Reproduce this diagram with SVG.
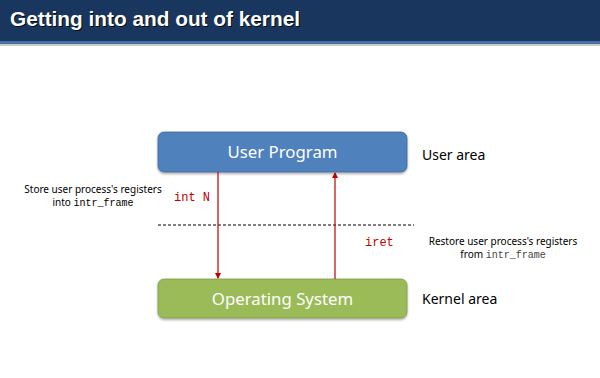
<svg xmlns="http://www.w3.org/2000/svg" width="600" height="378" viewBox="0 0 600 378">
<defs>
<marker id="ah" markerWidth="6" markerHeight="6" refX="5" refY="3" orient="auto" markerUnits="userSpaceOnUse">
<path d="M0,0 L6,3 L0,6 z" fill="#c00000"/>
</marker>
<filter id="sh" x="-5%" y="-10%" width="110%" height="130%">
<feDropShadow dx="0" dy="1.5" stdDeviation="1" flood-color="#000" flood-opacity="0.35"/>
</filter>
</defs>
<style>
.lbl{font-family:"Noto Sans","Open Sans","Liberation Sans",sans-serif;fill:#000}
.box{font-family:"Noto Sans","Open Sans","Liberation Sans",sans-serif;fill:#fff;font-size:16.8px}
.mono{font-family:"Liberation Mono","DejaVu Sans Mono",monospace}
.red{fill:#c00000}
.conn{stroke:#c00000;stroke-width:1.2;fill:none}
</style>
<rect x="0" y="0" width="600" height="41" fill="#19365e"/>
<rect x="0" y="41" width="600" height="3" fill="#4a6fa5"/>
<rect x="0" y="44" width="600" height="2" fill="#c8c8c8"/>
<text x="11" y="27" font-family="Liberation Sans,Arial,sans-serif" font-weight="bold" font-size="20.8" fill="#000" opacity="0.8">Getting into and out of kernel</text>
<text x="10" y="26" font-family="Liberation Sans,Arial,sans-serif" font-weight="bold" font-size="20.8" fill="#fff">Getting into and out of kernel</text>
<g id="user-program">
<rect x="158" y="132" width="249" height="40" rx="6" fill="#4f81bd" stroke="#41689a" stroke-width="0.8" filter="url(#sh)"/>
<text class="box" x="282.5" y="158" text-anchor="middle">User Program</text>
</g>
<g id="operating-system">
<rect x="158" y="279" width="249" height="39" rx="6" fill="#9bbb59" stroke="#7f9a48" stroke-width="0.8" filter="url(#sh)"/>
<text class="box" x="282.5" y="305" text-anchor="middle">Operating System</text>
</g>
<g id="user-area"><text class="lbl" x="422" y="160" font-size="14">User area</text></g>
<g id="kernel-area"><text class="lbl" x="422" y="304" font-size="14">Kernel area</text></g>
<g id="boundary"><line x1="158" y1="225" x2="414" y2="225" stroke="#000" stroke-width="1" stroke-dasharray="3,2"/></g>
<g id="connectors">
<line class="conn" x1="218" y1="172" x2="218" y2="278" marker-end="url(#ah)"/>
<line class="conn" x1="335" y1="279" x2="335" y2="173" marker-end="url(#ah)"/>
</g>
<g id="int-label">
<text class="mono red" x="174" y="201" font-size="12">int N</text>
<text class="lbl" x="93" y="193" font-size="10" text-anchor="middle">Store user process's registers</text>
<text class="lbl" x="93" y="206" font-size="10" text-anchor="middle">into <tspan class="mono" font-size="10">intr_frame</tspan></text>
</g>
<g id="iret-label">
<text class="mono red" x="365" y="246" font-size="12">iret</text>
<text class="lbl" x="503" y="245" font-size="10" text-anchor="middle">Restore user process's registers</text>
<text class="lbl" x="503" y="258" font-size="10" text-anchor="middle">from <tspan class="mono" font-size="10" fill="#444">intr_frame</tspan></text>
</g>
</svg>
